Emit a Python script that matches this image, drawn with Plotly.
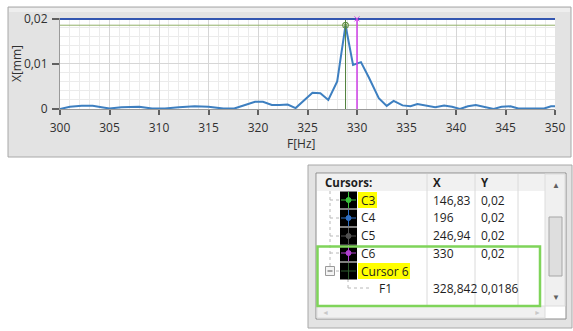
import plotly.graph_objects as go

W, H = 573, 331

# ---------------- data ----------------
freq_hz = [300.0, 301.0, 302.2, 303.3, 304.2, 305.0, 306.2, 307.0, 308.0, 309.3,
           310.6, 312.0, 313.6, 315.0, 316.5, 317.6, 318.5, 319.7, 320.5, 321.4,
           322.2, 323.0, 323.8, 324.6, 325.5, 326.3, 327.1, 328.0, 328.842, 329.6,
           330.4, 331.2, 332.2, 333.0, 333.7, 334.6, 335.4, 336.1, 337.1, 337.9,
           338.8, 339.6, 340.4, 341.2, 342.0, 342.9, 343.8, 344.6, 345.5, 346.3,
           347.2, 348.0, 348.9, 349.6, 350.0]
amp_mm = [0.0000, 0.0005, 0.0007, 0.0007, 0.0004, 0.0001, 0.0004, 0.0005, 0.0005, 0.0001,
          0.0001, 0.0004, 0.0006, 0.0005, 0.0001, 0.0001, 0.0007, 0.0016, 0.0016, 0.0009,
          0.0009, 0.0010, 0.0002, 0.0018, 0.0036, 0.0035, 0.0020, 0.0061, 0.0186, 0.0098,
          0.0104, 0.0070, 0.0024, 0.0007, 0.0018, 0.0008, 0.0006, 0.0011, 0.0007, 0.0004,
          0.0008, 0.0005, 0.0000, 0.0006, 0.0009, 0.0005, 0.0000, 0.0005, 0.0006, 0.0001,
          0.0001, 0.0001, 0.0001, 0.0006, 0.0006]

x_ticks = [300, 305, 310, 315, 320, 325, 330, 335, 340, 345, 350]
y_ticks = [0, 0.01, 0.02]

cursor_names = ["C3", "C4", "C5", "C6", "Cursor 6", "F1"]
cursor_x = [146.83, 196, 246.94, 330, None, 328.842]
cursor_y = [0.02, 0.02, 0.02, 0.02, None, 0.0186]
cursor_colors = ["#3cc43c", "#2f6fc4", "#505050", "#b040d0", "#2c5a2c", "#5a8a3a"]
cursor_highlight = [True, False, False, False, True, False]
cursor_level = [0, 0, 0, 0, 0, 1]


def fmt(v):
    return "" if v is None else ("%g" % v).replace(".", ",")


def px(x):
    return x / W


def py(y):
    return 1 - y / H


# plot area in pixels
PL, PR, PT, PB = 60, 555, 18, 109

fig = go.Figure()

# spectrum
fig.add_trace(go.Scatter(x=freq_hz, y=amp_mm, mode="lines",
                         line=dict(color="#3d7fc0", width=2), hoverinfo="skip"))

# cursors on graph
f1x, f1y = cursor_x[5], cursor_y[5]
fig.add_trace(go.Scatter(x=[300, 350], y=[f1y, f1y], mode="lines",
                         line=dict(color="#93b06a", width=1), hoverinfo="skip"))
fig.add_trace(go.Scatter(x=[f1x, f1x], y=[0, 0.02], mode="lines",
                         line=dict(color="#4f7f3a", width=1), hoverinfo="skip"))
c6x = cursor_x[3]
fig.add_trace(go.Scatter(x=[c6x, c6x], y=[0, cursor_y[3]], mode="lines",
                         line=dict(color="#d040e8", width=1.5), hoverinfo="skip"))
for i in [0, 2, 3, 1]:
    fig.add_trace(go.Scatter(x=[300, 350], y=[cursor_y[i], cursor_y[i]], mode="lines",
                             line=dict(color="#3356b0" if i == 1 else cursor_colors[i],
                                       width=2 if i == 1 else 1),
                             hoverinfo="skip"))
fig.add_trace(go.Scatter(x=[f1x], y=[f1y], mode="markers",
                         marker=dict(symbol="circle-x-open", size=6, color="#5a8a3a",
                                     line=dict(width=1)), hoverinfo="skip", cliponaxis=False))
fig.add_trace(go.Scatter(x=[c6x], y=[cursor_y[3]], mode="markers",
                         marker=dict(symbol="x-thin-open", size=5, color="#d040e8",
                                     line=dict(width=1, color="#d040e8")),
                         hoverinfo="skip", cliponaxis=False))

shapes = []
ann = []

FONT = "Open Sans, Noto Sans, sans-serif"
TXT = "#1e1e1e"


def text(x, y, s, size=12, color=TXT, xa="left", angle=0):
    ann.append(dict(x=px(x), y=py(y), text=s, showarrow=False, xref="paper", yref="paper",
                    xanchor=xa, yanchor="middle", textangle=angle,
                    font=dict(size=size, color=color, family=FONT)))


def rect(x0, y0, x1, y1, fill, lc=None, lw=0, layer="above"):
    shapes.append(dict(type="rect", xref="paper", yref="paper", x0=px(x0), x1=px(x1),
                       y0=py(y1), y1=py(y0), fillcolor=fill,
                       line=dict(color=lc or "rgba(0,0,0,0)", width=lw), layer=layer))


def line(x0, y0, x1, y1, color, w=1, dash="solid"):
    shapes.append(dict(type="line", xref="paper", yref="paper", x0=px(x0), x1=px(x1),
                       y0=py(y0), y1=py(y1), line=dict(color=color, width=w, dash=dash)))


# graph panel
rect(8, 7, 571, 157, "#e3e3e3", "#a8a8a8", 1, "below")
rect(9, 8, 570, 12, "#eeeeee", None, 0, "below")
rect(PL, PT, PR, PB, "white", None, 0, "below")

# ---------------- cursor table ----------------
rect(308, 165, 572, 328, "#e3e3e3", "#a8a8a8", 1)
IL, IR, IT, IB = 316, 566, 173, 319
rect(IL, IT, IR, IB, "white", "#8c8c8c", 1)
rect(IL + 1, IT + 1, 545, 191, "#f1f1f1")
for sx in [427, 475, 518]:
    line(sx, IT + 1, sx, 306, "#dadada")
# vertical scrollbar
rect(545, IT + 1, IR - 1, 306, "#f0f0f0", "#dcdcdc", 1)
rect(549, 217, 562, 276, "#dedede", "#a6a6a6", 1)
# horizontal scrollbar
rect(IL + 1, 306, 545, IB - 1, "#f0f0f0", "#dcdcdc", 1)
text(555.5, 184, "▲", 8, "#606060", "center")
text(555.5, 296, "▼", 8, "#606060", "center")
text(325, 312, "◄", 7, "#c8c8c8", "center")
text(537, 312, "►", 7, "#c8c8c8", "center")

hdr_y = 183
text(323, hdr_y, "<b>Cursors:</b>", 11.5)
text(431, hdr_y, "<b>X</b>", 11.5)
text(479, hdr_y, "<b>Y</b>", 11.5)

row_y = [200, 218, 236, 253, 271, 288]
# tree lines
line(330, 191, 330, 267, "#b8b8b8", 1, "dot")
line(348, 279, 348, 288, "#b8b8b8", 1, "dot")
for i, name in enumerate(cursor_names):
    ry = row_y[i]
    if cursor_level[i] == 0:
        line(330, ry, 340, ry, "#b8b8b8", 1, "dot")
        rect(340, ry - 8.5, 357, ry + 8.5, "black")
        c = cursor_colors[i]
        line(341, ry, 356, ry, c)
        line(348.5, ry - 8, 348.5, ry + 8, c)
        if name != "Cursor 6":
            shapes.append(dict(type="circle", xref="paper", yref="paper",
                               x0=px(346), x1=px(351), y0=py(ry + 2.5), y1=py(ry - 2.5),
                               fillcolor=c, line=dict(color=c, width=1)))
        tx = 359
    else:
        line(348, ry, 370, ry, "#b8b8b8", 1, "dot")
        tx = 377
    if cursor_highlight[i]:
        wtxt = 19 if len(name) < 4 else 52
        rect(tx - 1, ry - 8, tx - 1 + wtxt, ry + 8, "#ffff00")
    text(tx, ry, name)
    text(431, ry, fmt(cursor_x[i]))
    text(479, ry, fmt(cursor_y[i]))

# expand box for "Cursor 6"
rect(325.5, 266.5, 334.5, 275.5, "#f4f4f4", "#9a9a9a", 1)
line(327.5, 271, 332.5, 271, "#555555")

# green highlight rectangle
rect(317.5, 246.5, 540, 306, "rgba(0,0,0,0)", "#7fd45a", 2.5)

# axis titles
text(301, 144, "F[Hz]", 12, "#303030", "center")
text(17, 64, "X[mm]", 12, "#303030", "center", -90)

fig.update_layout(
    width=W, height=H, autosize=False,
    margin=dict(l=0, r=0, t=0, b=0, pad=0, autoexpand=False),
    paper_bgcolor="white", plot_bgcolor="rgba(0,0,0,0)",
    showlegend=False, separators=", ",
    font=dict(family=FONT, size=12, color="#303030"),
    shapes=shapes, annotations=ann,
    xaxis=dict(domain=[px(PL), px(PR)], range=[300, 350], tickvals=x_ticks,
               ticks="outside", ticklen=5, tickcolor="#606060", tickwidth=1.5,
               ticklabelstandoff=3,
               showgrid=True, gridcolor="#d6d6d6", gridwidth=1,
               minor=dict(dtick=1, showgrid=True, gridcolor="#ebebeb", ticks=""),
               showline=True, linecolor="#9a9a9a", mirror=False, zeroline=False,
               fixedrange=True),
    yaxis=dict(domain=[py(PB), py(PT)], range=[0, 0.0202], tickvals=y_ticks,
               ticks="outside", ticklen=7, tickcolor="#606060", tickwidth=1.5,
               ticklabelstandoff=2,
               showgrid=True, gridcolor="#d6d6d6", gridwidth=1,
               minor=dict(dtick=0.002, showgrid=True, gridcolor="#ebebeb", ticks=""),
               showline=True, linecolor="#9a9a9a", mirror=False, zeroline=False,
               fixedrange=True),
)

fig.write_html("out.html", config={"displayModeBar": False},
               post_script="document.body.style.margin='0';"
                           "document.body.style.overflow='hidden';")
